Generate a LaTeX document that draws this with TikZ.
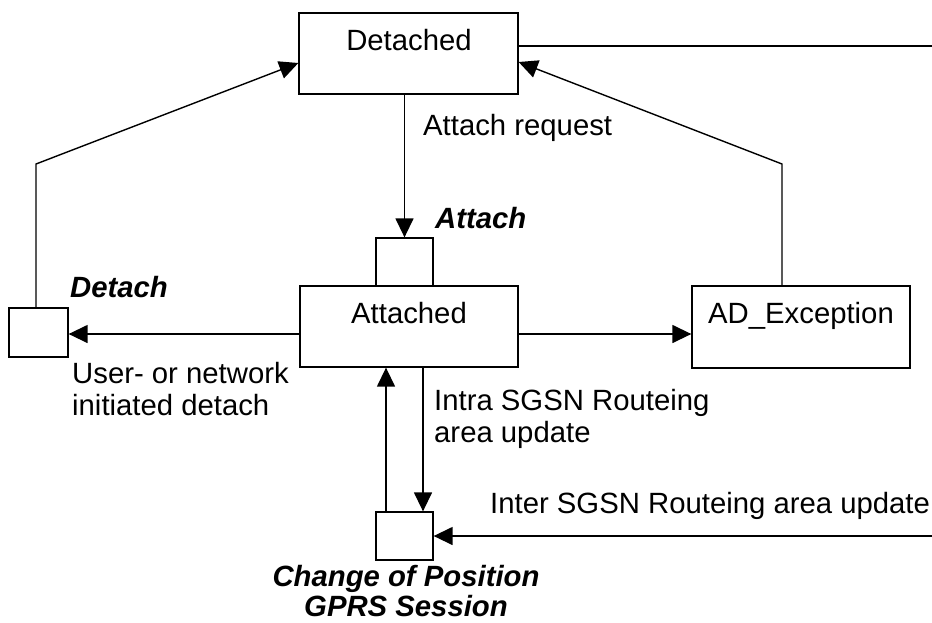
\documentclass[tikz,border=0pt]{standalone}
\usepackage{fontspec}
\setmainfont{Liberation Sans}
\usetikzlibrary{arrows.meta}
\tikzset{
  box/.style={draw, line width=1.3pt, rectangle, inner sep=0pt, anchor=center},
  lbl/.style={inner sep=0pt, font=\fontsize{29.3}{32}\selectfont},
  blbl/.style={inner sep=0pt, font=\fontsize{29.3}{32}\selectfont\bfseries\itshape},
  conn/.style={line width=1.4pt},
  arr/.style={line width=1.4pt, -{Triangle[length=19pt,width=18pt]}}
}
\begin{document}
\begin{tikzpicture}[x=1pt,y=-1pt]
\useasboundingbox (0,0) rectangle (932,622);
% boxes
\node[box, minimum width=219pt, minimum height=81pt] (detached) at (408.5,53.5) {};
\node[box, minimum width=57pt, minimum height=48pt] (attachbox) at (404.5,262) {};
\node[box, minimum width=218pt, minimum height=81pt] (attached) at (409,326.5) {};
\node[box, minimum width=218pt, minimum height=82pt] (adexc) at (801,327) {};
\node[box, minimum width=59pt, minimum height=49pt] (detachbox) at (38.5,332.5) {};
\node[box, minimum width=57pt, minimum height=48pt] (cpbox) at (404.5,536) {};
% texts
\node[lbl, anchor=base] (tdetached) at (409,50) {Detached};
\node[lbl, anchor=base] (tattached) at (409,323) {Attached};
\node[lbl, anchor=base] (tadexc) at (801,323) {AD\_Exception};
\node[lbl, anchor=base west] (tattreq) at (423,135) {Attach request};
\node[blbl, anchor=base west] (tattach) at (435,228) {Attach};
\node[blbl, anchor=base west] (tdetach) at (70,297) {Detach};
\node[lbl, anchor=base west] (tuser1) at (72,383) {User- or network};
\node[lbl, anchor=base west] (tuser2) at (72,415) {initiated detach};
\node[lbl, anchor=base west] (tintra1) at (434,410) {Intra SGSN Routeing};
\node[lbl, anchor=base west] (tintra2) at (434,442) {area update};
\node[lbl, anchor=base west] (tinter) at (490,513) {Inter SGSN Routeing area update};
\node[blbl, anchor=base] (tcp1) at (406,586) {Change of Position};
\node[blbl, anchor=base] (tcp2) at (406,616) {GPRS Session};
% helper coordinates
\coordinate (rowA) at (0,334);
\coordinate (rowD) at (0,46);
\coordinate (rowIn) at (0,536);
\coordinate (rightD) at (932,46);
\coordinate (rightIn) at (932,536);
\coordinate (lbend) at (36,164);
\coordinate (rbend) at (782,164);
\coordinate (colUp) at (386,0);
\coordinate (colDown) at (423,0);
% connectors
\draw[conn] (detached.east |- rowD) -- (rightD);
\draw[arr] (detached.south -| attachbox.north) -- (attachbox.north);
\draw[arr] (attached.west |- rowA) -- (detachbox.east |- rowA);
\draw[arr] (attached.east |- rowA) -- (adexc.west |- rowA);
\draw[arr] (detachbox.north -| lbend) -- (lbend) -- ([yshift=-9.5pt]detached.west);
\draw[arr] (adexc.north -| rbend) -- (rbend) -- ([yshift=-8.5pt]detached.east);
\draw[arr] (cpbox.north -| colUp) -- (attached.south -| colUp);
\draw[arr] (attached.south -| colDown) -- (cpbox.north -| colDown);
\draw[arr] (rightIn) -- (cpbox.east |- rowIn);
\end{tikzpicture}
\end{document}
